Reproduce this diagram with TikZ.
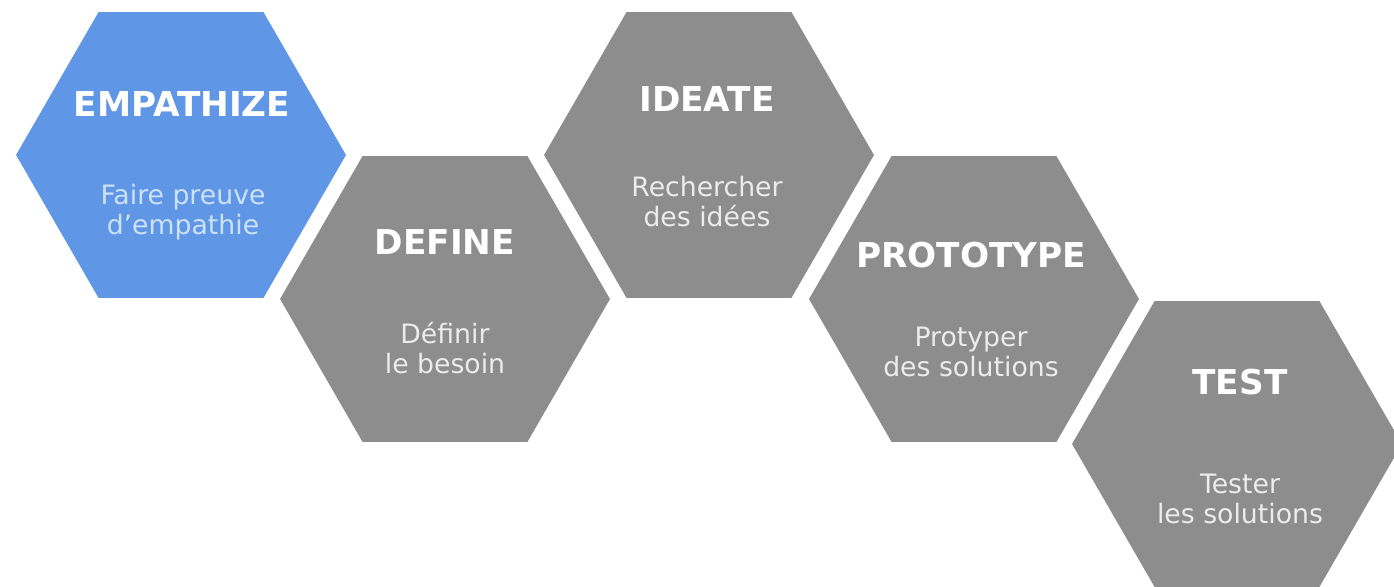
\documentclass[tikz,border=0pt]{standalone}
\usepackage{fontspec}
\setmainfont{DejaVu Sans}
\usepackage{tikz}
\usetikzlibrary{shapes.geometric}
\usepackage{xcolor}
\definecolor{stepblue}{RGB}{95,150,230}
\definecolor{stepgray}{RGB}{141,141,141}
\definecolor{subblue}{RGB}{205,226,250}
\definecolor{subgray}{RGB}{236,236,236}

\begin{document}
\begin{tikzpicture}[x=0.02cm, y=-0.02cm,
  hexa/.style={regular polygon, regular polygon sides=6, minimum size=6.6cm,
    inner sep=0pt, outer sep=0pt, draw=none},
  phase/.style={anchor=base, white, font=\fontsize{19.5}{21}\selectfont\bfseries},
  phasesub/.style={anchor=base, align=center, font=\fontsize{15.2}{17.2}\selectfont}]
\useasboundingbox (0,0) rectangle (1394,587);
\clip (0,0) rectangle (1394,587);

% Hexagons
\node[hexa, fill=stepblue] (empathize) at (181,155) {};
\node[hexa, fill=stepgray] (define) at (445,299) {};
\node[hexa, fill=stepgray] (ideate) at (709,155) {};
\node[hexa, fill=stepgray] (prototype) at (974,299) {};
\node[hexa, fill=stepgray] (test) at (1237,444) {};

% Empathize
\node[phase] (empathize-title) at (182,117) {EMPATHIZE};
\node[phasesub, subblue] (empathize-sub) at (183,235) {Faire preuve\\d’empathie};

% Define
\node[phase] (define-title) at (445,255) {DEFINE};
\node[phasesub, subgray] (define-sub) at (445,374) {Définir\\le besoin};

% Ideate
\node[phase] (ideate-title) at (707,112) {IDEATE};
\node[phasesub, subgray] (ideate-sub) at (707,227) {Rechercher\\des idées};

% Prototype
\node[phase] (prototype-title) at (971,268) {PROTOTYPE};
\node[phasesub, subgray] (prototype-sub) at (971,377) {Protyper\\des solutions};

% Test
\node[phase] (test-title) at (1240,395) {TEST};
\node[phasesub, subgray] (test-sub) at (1240,524) {Tester\\les solutions};
\end{tikzpicture}
\end{document}
